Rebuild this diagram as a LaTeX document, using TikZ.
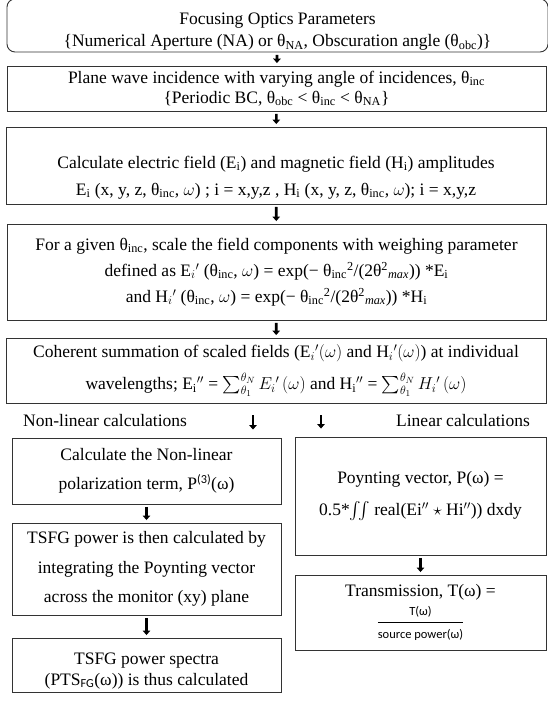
\documentclass[tikz,border=0pt]{standalone}
\usepackage{amsmath}
\usepackage{fontspec}
\setmainfont{Liberation Serif}
\setmathrm{Liberation Serif}
\newfontfamily\calfont{Carlito}
\usetikzlibrary{arrows.meta}

\newcommand{\thsub}[1]{θ\textsubscript{#1}}
% pushes a centred block of lines down a little
\newcommand{\lowerby}[1]{\rule{0pt}{#1}}

\begin{document}
\begin{tikzpicture}[x=1pt, y=-1pt,
    flowbox/.style={draw=black!80, line width=0.9pt, rectangle, inner sep=0pt,
                    align=center, font=\fontsize{17.5}{26}\selectfont},
    blkarrow/.style={-{Triangle[width=7.5pt,length=4.5pt]}, line width=2.6pt,
                     draw=black, shorten <=2.5pt, shorten >=2.5pt},
    side/.style={font=\fontsize{17.5}{20}\selectfont, inner sep=0pt}]

  \useasboundingbox (0,0) rectangle (547,703);

  % ---- the main chain, full width
  \node[flowbox, rounded corners=8pt, minimum width=541pt, minimum height=53pt,
        font=\fontsize{17.5}{22}\selectfont] (optics) at (277.5,25.5)
    {\lowerby{24pt}Focusing Optics Parameters\\
     \{Numerical Aperture (NA) or \thsub{NA}, Obscuration angle (\thsub{obc})\}};
  \node[flowbox, minimum width=539pt, minimum height=45pt,
        font=\fontsize{17.5}{20}\selectfont] (plane) at (276.5,88.5)
    {Plane wave incidence with varying angle of incidences, \thsub{inc}\\
     \{Periodic BC, \thsub{obc} < \thsub{inc} < \thsub{NA}\}};
  \node[flowbox, minimum width=540pt, minimum height=77pt,
        font=\fontsize{17.5}{27}\selectfont] (fields) at (276,165.5)
    {\lowerby{36pt}Calculate electric field (E\textsubscript{i}) and magnetic field (H\textsubscript{i}) amplitudes\\
     E\textsubscript{i} (x, y, z, \thsub{inc}, $\omega$) ; i = x,y,z , H\textsubscript{i} (x, y, z, \thsub{inc}, $\omega$); i = x,y,z};
  \node[flowbox, minimum width=539pt, minimum height=96pt] (scale) at (276.5,272)
    {For a given \thsub{inc}, scale the field components with weighing parameter\\
     defined as E$_i{}'$ (\thsub{inc}, $\omega$) = exp(− \thsub{inc}\textsuperscript{2}/(2θ\textsuperscript{2}\textsubscript{\textit{max}})) *E\textsubscript{i}\\
     and H$_i{}'$ (\thsub{inc}, $\omega$) = exp(− \thsub{inc}\textsuperscript{2}/(2θ\textsuperscript{2}\textsubscript{\textit{max}})) *H\textsubscript{i}};
  \node[flowbox, minimum width=540pt, minimum height=65pt,
        font=\fontsize{17.5}{32}\selectfont] (sum) at (276,370.5)
    {Coherent summation of scaled fields (E$_i{}'(\omega)$ and H$_i{}'(\omega)$) at individual\\
     wavelengths; E\textsubscript{i}$''$ = $\sum_{\theta_1}^{\theta_N} E_i{}'\,(\omega)$
     and H\textsubscript{i}$''$ = $\sum_{\theta_1}^{\theta_N} H_i{}'\,(\omega)$};

  \draw[blkarrow] (optics) -- (plane);
  \draw[blkarrow] (plane) -- (fields);
  \draw[blkarrow] (fields) -- (scale);
  \draw[blkarrow] (scale) -- (sum);

  % ---- the two branches
  \node[side, anchor=west] (nltitle) at (23,421) {Non-linear calculations};
  \node[side, anchor=east] (ltitle) at (530,421) {Linear calculations};

  \node[flowbox, minimum width=269pt, minimum height=66pt,
        font=\fontsize{17.5}{29}\selectfont] (polar) at (146.5,471)
    {Calculate the Non-linear\\
     polarization term, P\textsuperscript{\calfont(3)}(ω)};
  \node[flowbox, minimum width=269pt, minimum height=92pt,
        font=\fontsize{17.5}{29.5}\selectfont] (tsfg) at (146.5,569)
    {TSFG power is then calculated by\\
     integrating the Poynting vector\\
     across the monitor (xy) plane};
  \node[flowbox, minimum width=269pt, minimum height=54pt,
        font=\fontsize{17.5}{21}\selectfont] (spectra) at (146.5,665)
    {\lowerby{23pt}TSFG power spectra\\
     (PTS\textsubscript{\calfont FG}(ω)) is thus calculated};

  \node[flowbox, minimum width=251pt, minimum height=118pt,
        font=\fontsize{17.5}{32}\selectfont] (poynt) at (420.5,496)
    {Poynting vector, P(ω) =\\
     0.5*$\iint$ real(Ei$''$ $\star$ Hi$''$)) dxdy};
  \node[flowbox, minimum width=251pt, minimum height=75pt,
        font=\fontsize{17.5}{20}\selectfont] (trans) at (420.5,612.5)
    {Transmission, T(ω) =\\[5pt]
     $\dfrac{\text{\calfont\fontsize{12.5}{14}\selectfont T(ω)}}{\text{\calfont\fontsize{12.5}{14}\selectfont source power(ω)}}$};

  \coordinate (nlx) at (253,0);
  \coordinate (lx) at (321,0);
  \draw[blkarrow, shorten <=12pt, shorten >=8pt] (sum.south -| nlx) -- (polar.north -| nlx);
  \draw[blkarrow, shorten <=12pt, shorten >=8pt] (sum.south -| lx) -- (poynt.north -| lx);
  \draw[blkarrow] (polar) -- (tsfg);
  \draw[blkarrow] (tsfg) -- (spectra);
  \draw[blkarrow] (poynt) -- (trans);
\end{tikzpicture}
\end{document}
